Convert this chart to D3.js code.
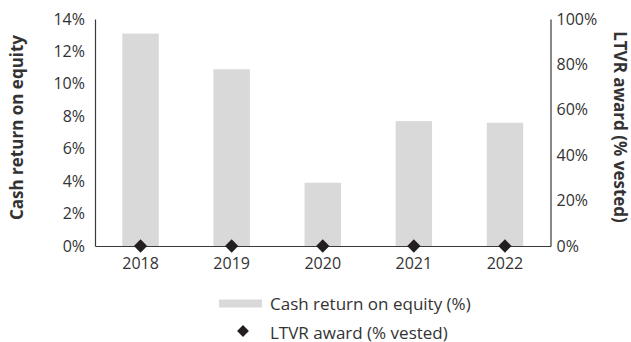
<!DOCTYPE html>
<html>
<head>
<meta charset="utf-8">
<script src="https://cdn.jsdelivr.net/npm/d3@7"></script>
<style>
  body { margin: 0; background: #fff; }
  svg { display: block; }
  text { font-family: "Open Sans", sans-serif; fill: #333; }
</style>
</head>
<body>
<svg id="chart" width="631" height="342"></svg>
<script>
// Years, cash return on equity (%) and LTVR vesting (%)
const years = ["2018", "2019", "2020", "2021", "2022"];
const cashReturn = [13.1, 10.9, 3.9, 7.7, 7.6];
const ltvrVested = [0, 0, 0, 0, 0];
const leftTicks = [0, 2, 4, 6, 8, 10, 12, 14];
const rightTicks = [0, 20, 40, 60, 80, 100];

const svg = d3.select("#chart");
const m = { left: 95, right: 550.5, top: 19, bottom: 246 };
const fontFamily = '"Open Sans", sans-serif';

const x = d3.scaleBand().domain(years).range([m.left, m.right])
  .paddingInner(0.6).paddingOuter(0.3);
const yL = d3.scaleLinear().domain([0, 14]).range([m.bottom, m.top]);
const yR = d3.scaleLinear().domain([0, 100]).range([m.bottom, m.top]);

const axisColor = "#3a3a3a";
const tickFont = 16;

// bars
svg.append("g").selectAll("rect").data(years).join("rect")
  .attr("x", d => x(d))
  .attr("width", x.bandwidth())
  .attr("y", (d, i) => yL(cashReturn[i]))
  .attr("height", (d, i) => yL(0) - yL(cashReturn[i]))
  .attr("fill", "#d9d9d9");

// left axis
const gL = svg.append("g").attr("transform", `translate(${m.left},0)`)
  .call(d3.axisLeft(yL).tickValues(leftTicks).tickSize(0).tickPadding(10).tickFormat(d => d + "%"));
// right axis
const gR = svg.append("g").attr("transform", `translate(${m.right},0)`)
  .call(d3.axisRight(yR).tickValues(rightTicks).tickSize(0).tickPadding(6).tickFormat(d => d + "%"));
// bottom axis
const gB = svg.append("g").attr("transform", `translate(0,${m.bottom})`)
  .call(d3.axisBottom(x).tickSize(0).tickPadding(12));

[gL, gR, gB].forEach(g => {
  g.select(".domain").attr("stroke", axisColor).attr("stroke-width", 1.2);
  g.selectAll("text").style("font-size", tickFont + "px").attr("fill", "#333")
    .style("font-family", fontFamily);
});

// LTVR markers
const diamond = d3.symbol().type(d3.symbolSquare).size(88);
svg.append("g").selectAll("path").data(years).join("path")
  .attr("d", diamond)
  .attr("transform", (d, i) => `translate(${x(d) + x.bandwidth() / 2},${yR(ltvrVested[i])}) rotate(45)`)
  .attr("fill", "#231f20");

// axis titles
svg.append("text")
  .attr("transform", `translate(23,127.5) rotate(-90)`)
  .attr("text-anchor", "middle")
  .style("font-size", "17px").style("font-weight", "bold")
  .text("Cash return on equity");
svg.append("text")
  .attr("transform", `translate(614,127) rotate(90)`)
  .attr("text-anchor", "middle")
  .style("font-size", "17px").style("font-weight", "bold")
  .text("LTVR award (% vested)");

// legend
const lg = svg.append("g");
lg.append("rect").attr("x", 219).attr("y", 299.5).attr("width", 43).attr("height", 8).attr("fill", "#d9d9d9");
lg.append("text").attr("x", 270).attr("y", 309.5).style("font-size", "17px").text("Cash return on equity (%)");
lg.append("path").attr("d", d3.symbol().type(d3.symbolSquare).size(70))
  .attr("transform", "translate(243,331) rotate(45)").attr("fill", "#231f20");
lg.append("text").attr("x", 270).attr("y", 338.5).style("font-size", "17px").text("LTVR award (% vested)");
</script>
</body>
</html>
